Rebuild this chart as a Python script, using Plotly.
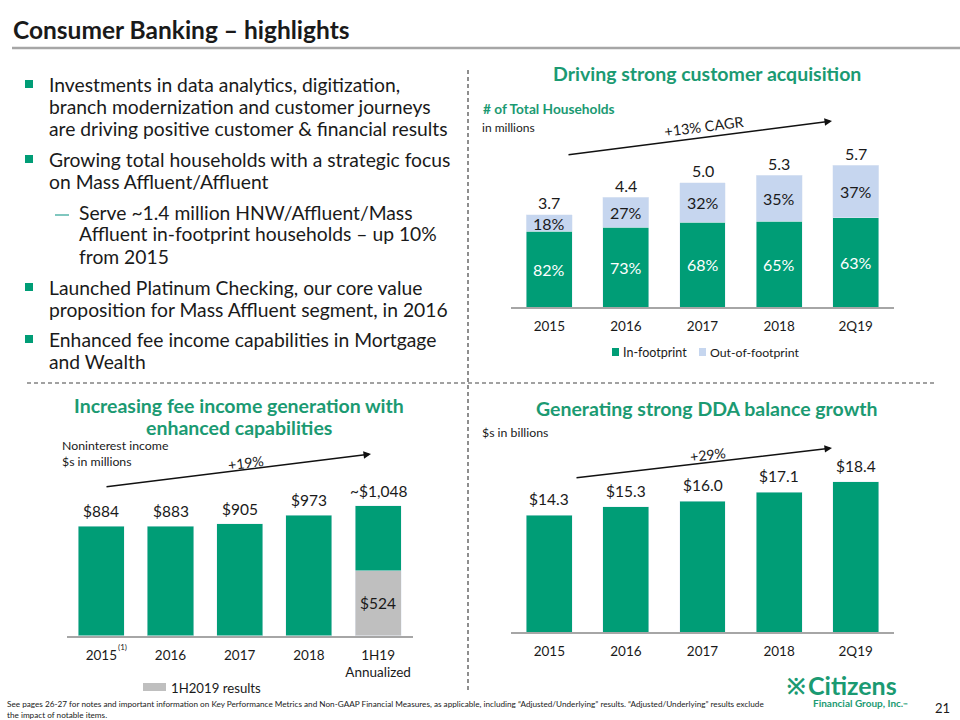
import plotly.graph_objects as go

W, H = 960, 720
def px(x): return x / W
def py(y): return 1 - y / H

FONT = "Lato"
GREEN = "#009D76"
TGREEN = "#1B9A72"
LBLUE = "#C6D6EF"
GRAY = "#BFBFBF"
TXT = "#1A1A1A"

# ---- data: households (top right) ----
hh_cats = ["2015", "2016", "2017", "2018", "2Q19"]
hh_total = [3.7, 4.4, 5.0, 5.3, 5.7]
hh_in_pct = [82, 73, 68, 65, 63]
hh_out_pct = [18, 27, 32, 35, 37]

# ---- data: noninterest income (bottom left) ----
fee_cats = ["2015", "2016", "2017", "2018", "1H19 Annualized"]
fee_ticktext = ["2015", "2016", "2017", "2018", "1H19<br>Annualized"]
fee_total = [884, 883, 905, 973, 1048]
fee_labels = ["$884", "$883", "$905", "$973", "~$1,048"]
fee_1h19_results = 524

# ---- data: DDA balances (bottom right) ----
dda_cats = ["2015", "2016", "2017", "2018", "2Q19"]
dda_vals = [14.3, 15.3, 16.0, 17.1, 18.4]

hh_in = [t * p / 100 for t, p in zip(hh_total, hh_in_pct)]
hh_out = [t - i for t, i in zip(hh_total, hh_in)]
fee_green = [v - fee_1h19_results if c == fee_cats[-1] else v for c, v in zip(fee_cats, fee_total)]

fig = go.Figure()
fig.add_trace(go.Bar(x=hh_cats, y=hh_in, marker_color=GREEN, width=0.6, name="In-footprint",
                     xaxis="x", yaxis="y", showlegend=False, hoverinfo="skip"))
fig.add_trace(go.Bar(x=hh_cats, y=hh_out, marker_color=LBLUE, width=0.6, name="Out-of-footprint",
                     xaxis="x", yaxis="y", showlegend=False, hoverinfo="skip"))
fig.add_trace(go.Bar(x=[fee_cats[-1]], y=[fee_1h19_results], marker_color=GRAY, width=0.665,
                     name="1H2019 results", xaxis="x2", yaxis="y2", showlegend=False, hoverinfo="skip"))
fig.add_trace(go.Bar(x=fee_cats, y=fee_green, marker_color=GREEN, width=0.665, name="Noninterest income",
                     xaxis="x2", yaxis="y2", showlegend=False, hoverinfo="skip"))
fig.add_trace(go.Bar(x=dda_cats, y=dda_vals, marker_color=GREEN, width=0.6, name="DDA",
                     xaxis="x3", yaxis="y3", showlegend=False, hoverinfo="skip"))

ann = []
def text(x, y, s, size=12, color=TXT, bold=False, xanchor="center", yanchor="middle", angle=0, xref="paper", yref="paper", yshift=0, align="left"):
    if bold:
        s = "<b>" + s + "</b>"
    if xref == "paper":
        x = px(x)
    if yref == "paper":
        y = py(y)
    ann.append(dict(x=x, y=y, xref=xref, yref=yref, text=s, showarrow=False,
                    font=dict(family=FONT, size=size, color=color), xanchor=xanchor,
                    yanchor=yanchor, textangle=angle, yshift=yshift, align=align, borderpad=0))

def arrow(x0, y0, x1, y1):
    ann.append(dict(x=px(x1), y=py(y1), ax=x0 - x1, ay=y0 - y1, xref="paper", yref="paper",
                    axref="pixel", ayref="pixel", text="", showarrow=True, arrowhead=2,
                    arrowsize=1, arrowwidth=1.5, arrowcolor="#111"))

# page title
text(12, 30, "Consumer Banking – highlights", size=24.5, bold=True, xanchor="left")

# bullets
bullet_lines = [
    (84, "Investments in data analytics, digitization,", 48),
    (106, "branch modernization and customer journeys", 48),
    (128, "are driving positive customer &amp; financial results", 48),
    (159, "Growing total households with a strategic focus", 48),
    (181, "on Mass Affluent/Affluent", 48),
    (212, "Serve ~1.4 million HNW/Affluent/Mass", 78),
    (234, "Affluent in-footprint households – up 10%", 78),
    (256, "from 2015", 78),
    (287, "Launched Platinum Checking, our core value", 48),
    (309, "proposition for Mass Affluent segment, in 2016", 48),
    (339, "Enhanced fee income capabilities in Mortgage", 48),
    (361, "and Wealth", 48),
]
for y, s, x in bullet_lines:
    text(x, y, s, size=19.3, xanchor="left")

shapes = []
for y in [84, 159, 287, 339]:
    shapes.append(dict(type="rect", xref="paper", yref="paper", x0=px(25), x1=px(33),
                       y0=py(y + 4), y1=py(y - 4), fillcolor=GREEN, line_width=0))
shapes.append(dict(type="line", xref="paper", yref="paper", x0=px(55), x1=px(69), y0=py(215), y1=py(215),
                   line=dict(color="#3BA99C", width=1.3)))

# title underline and separators
shapes.append(dict(type="line", xref="paper", yref="paper", x0=px(12), x1=px(960), y0=py(48), y1=py(48),
                   line=dict(color="#A6A6A6", width=2.5)))
shapes.append(dict(type="line", xref="paper", yref="paper", x0=px(468), x1=px(468), y0=py(70), y1=py(690),
                   line=dict(color="#444", width=1.2, dash="4px,3px")))
shapes.append(dict(type="line", xref="paper", yref="paper", x0=px(27), x1=px(934), y0=py(383), y1=py(383),
                   line=dict(color="#444", width=1.2, dash="4px,3px")))

# ---- chart 1 texts ----
text(707, 74, "Driving strong customer acquisition", size=19.5, color=TGREEN, bold=True)
text(482, 108, "# of Total Households", size=13.7, color=TGREEN, bold=True, xanchor="left")
text(481, 127, "in millions", size=12, xanchor="left")
arrow(567, 155, 832, 121)
text(703, 126, "+13% CAGR", size=14.5, angle=-7.3)
for k, (t, i, o, ip, op) in enumerate(zip(hh_total, hh_in, hh_out, hh_in_pct, hh_out_pct)):
    text(k, t, f"{t:.1f}", size=16, xref="x", yref="y", yanchor="bottom", yshift=1.5)
    text(k, i / 2, f"{ip}%", size=16, color="white", xref="x", yref="y")
    text(k, i + o / 2, f"{op}%", size=16, xref="x", yref="y")
# legend
shapes.append(dict(type="rect", xref="paper", yref="paper", x0=px(612), x1=px(619), y0=py(356), y1=py(348),
                   fillcolor=GREEN, line_width=0))
text(622, 352, "In-footprint", size=12.5, xanchor="left")
shapes.append(dict(type="rect", xref="paper", yref="paper", x0=px(699), x1=px(706), y0=py(356), y1=py(348),
                   fillcolor=LBLUE, line_width=0))
text(709, 352, "Out-of-footprint", size=12.3, xanchor="left")

# ---- chart 2 texts ----
text(239, 405, "Increasing fee income generation with", size=19.5, color=TGREEN, bold=True)
text(239, 427, "enhanced capabilities", size=19.5, color=TGREEN, bold=True)
text(61, 453, "Noninterest income<br>$s in millions", size=12.3, xanchor="left")
arrow(105, 487, 371, 454)
text(246, 462, "+19%", size=14, angle=-7)
for k, (v, lab) in enumerate(zip(fee_total, fee_labels)):
    text(k, v, lab, size=15.5, xref="x2", yref="y2", yanchor="bottom", yshift=5)
text(len(fee_cats) - 1, fee_1h19_results / 2, f"${fee_1h19_results}", size=15.5, xref="x2", yref="y2")
text(123, 647, "(1)", size=8)
shapes.append(dict(type="rect", xref="paper", yref="paper", x0=px(143), x1=px(166), y0=py(691), y1=py(683),
                   fillcolor=GRAY, line_width=0))
text(170, 688, "1H2019 results", size=13.2, xanchor="left")

# ---- chart 3 texts ----
text(707, 408, "Generating strong DDA balance growth", size=19.5, color=TGREEN, bold=True)
text(481, 432, "$s in billions", size=12.3, xanchor="left")
arrow(575, 478, 832, 448)
text(708, 454, "+29%", size=14, angle=-6.7)
for k, v in enumerate(dda_vals):
    text(k, v, f"${v:.1f}", size=15.5, xref="x3", yref="y3", yanchor="bottom", yshift=6)

# ---- footer ----
text(6, 704, "See pages 26-27 for notes and important information on Key Performance Metrics and Non-GAAP Financial Measures, as applicable, including “Adjusted/Underlying” results. “Adjusted/Underlying” results exclude", size=8.2, xanchor="left")
text(6, 715, "the impact of notable items.", size=8.2, xanchor="left")
text(796, 685, "※", size=22, color=TGREEN, bold=True)
text(807, 685, "Citizens", size=25, color=TGREEN, bold=True, xanchor="left")
text(812, 703, "Financial Group, Inc.<span style='font-size:6px'>™</span>", size=10, color=TGREEN, bold=True, xanchor="left")
text(942, 708, "21", size=13)

axis_common = dict(showline=True, linecolor="#A6A6A6", linewidth=1.5, ticks="outside", ticklen=6,
                   tickcolor="rgba(0,0,0,0)", tickfont=dict(family=FONT, size=13.5, color=TXT),
                   showgrid=False, zeroline=False, fixedrange=True, range=[-0.5, 4.5], type="category")

fig.update_layout(
    width=W, height=H, margin=dict(l=0, r=0, t=0, b=0),
    paper_bgcolor="white", plot_bgcolor="white", barmode="stack", bargap=0.4,
    font=dict(family=FONT, color=TXT),
    xaxis=dict(domain=[px(511), px(894)], anchor="y", categoryorder="array", categoryarray=hh_cats, **axis_common),
    yaxis=dict(domain=[py(307), py(140)], range=[0, (307 - 140) / 24.9], visible=False, fixedrange=True),
    xaxis2=dict(domain=[px(66.7), px(412.7)], anchor="y2", categoryorder="array", categoryarray=fee_cats,
                tickvals=fee_cats, ticktext=fee_ticktext, **axis_common),
    yaxis2=dict(domain=[py(635.7), py(470)], range=[0, (635.7 - 470) / 0.1239], visible=False, fixedrange=True),
    xaxis3=dict(domain=[px(511), px(894)], anchor="y3", categoryorder="array", categoryarray=dda_cats, **axis_common),
    yaxis3=dict(domain=[py(632.3), py(460)], range=[0, (632.3 - 460) / 8.19], visible=False, fixedrange=True),
    annotations=ann, shapes=shapes,
)

fig.write_html("out.html", config={"displayModeBar": False},
               post_script="document.body.style.margin='0';document.body.style.overflow='hidden';")
